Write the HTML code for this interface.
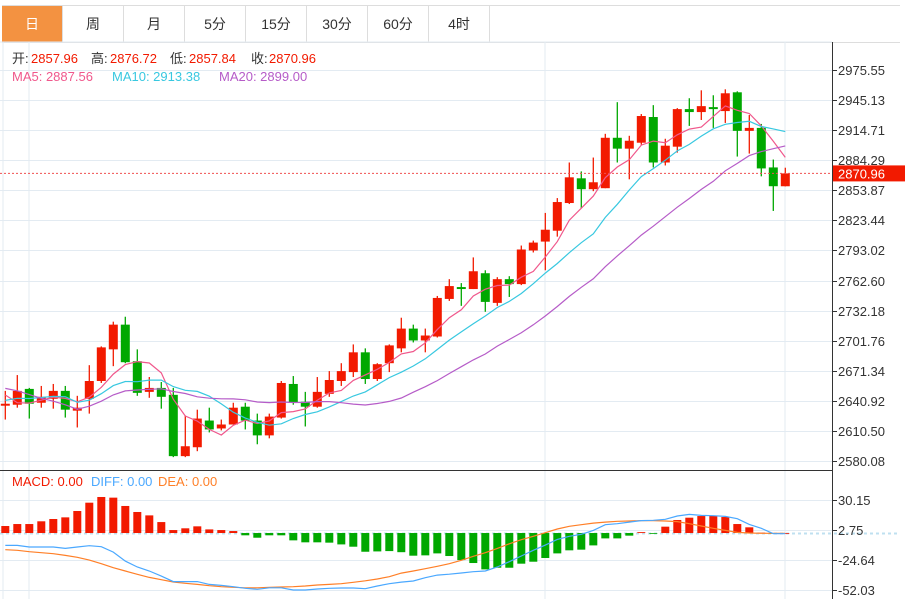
<!DOCTYPE html>
<html><head><meta charset="utf-8">
<style>
body{margin:0;background:#fff;font-family:"Liberation Sans","Noto Sans CJK SC",sans-serif;}
#wrap{position:relative;width:905px;height:599px;overflow:hidden;}
.tabs{position:absolute;left:2px;top:5px;height:36px;display:flex;border-top:1px solid #ddd;border-bottom:1px solid #ddd;}
.tab{width:60px;border-right:1px solid #ddd;text-align:center;line-height:36px;font-size:14px;color:#333;}
.tab.on{background:#f39241;color:#fff;}
svg{position:absolute;left:0;top:0;}
</style></head><body>
<div id="wrap">
<div class="tabs">
<div class="tab on">日</div>
<div class="tab">周</div>
<div class="tab">月</div>
<div class="tab">5分</div>
<div class="tab">15分</div>
<div class="tab">30分</div>
<div class="tab">60分</div>
<div class="tab">4时</div>
<div class="tab" style="width:410px;border-right:none"></div>
</div>
<svg id="chart" width="905" height="599"></svg>
</div>
<script>
const opens=[2636,2637,2653,2639,2643,2651,2631,2643,2661,2693,2718,2681,2650,2654,2647,2585,2594,2621,2613,2617,2635,2621,2606,2624,2658,2640,2635,2648,2661,2670,2690,2663,2679,2694,2714,2702,2706,2744,2756,2754,2770,2740,2764,2759,2793,2802,2813,2841,2866,2855,2856,2907,2896,2902,2928,2882,2898,2936,2933,2938,2934,2953,2914,2917,2877,2857.96];
const highs=[2651,2667,2654,2656,2658,2656,2646,2677,2696,2721,2726,2693,2665,2660,2654,2626,2632,2634,2622,2639,2639,2628,2628,2661,2666,2650,2665,2671,2679,2698,2694,2679,2698,2725,2718,2714,2747,2764,2760,2786,2773,2766,2767,2798,2803,2831,2846,2882,2873,2887,2911,2943,2909,2931,2940,2906,2937,2947,2955,2950,2956,2954,2930,2921,2885,2876.72];
const lows=[2622,2634,2623,2634,2633,2624,2614,2628,2659,2676,2679,2646,2644,2633,2584,2584,2590,2609,2611,2617,2612,2597,2603,2623,2637,2615,2634,2645,2656,2665,2658,2661,2670,2690,2700,2690,2705,2742,2737,2754,2731,2737,2746,2758,2791,2773,2807,2840,2836,2853,2856,2882,2865,2900,2877,2879,2892,2919,2925,2917,2922,2888,2891,2868,2833,2857.84];
const closes=[2638,2651,2638,2645,2651,2632,2634,2661,2695,2718,2680,2649,2654,2645,2585,2595,2623,2612,2617,2634,2621,2606,2625,2659,2639,2635,2650,2662,2671,2690,2663,2678,2697,2714,2702,2707,2745,2757,2754,2772,2741,2764,2759,2794,2801,2814,2842,2867,2855,2862,2907,2896,2904,2929,2882,2899,2936,2933,2939,2936,2952,2914,2917,2876,2858,2870.96];
const priorCloses=[2700,2715,2720,2710,2705,2722,2600,2595,2590,2600,2630,2640,2635,2640,2635,2690,2640,2630,2636];
const macdHist=[6.4,8.2,8.2,10.7,12.8,14.3,20.1,27.7,32.9,32.3,24.7,19.2,16.1,10,2.7,4.3,6.1,3.3,2.7,1.8,-2.1,-4.3,-2.1,-2.1,-6.7,-8.5,-8.5,-8.8,-10.4,-12.5,-17.1,-16.8,-16.5,-17.5,-20.7,-20.4,-18.6,-21,-24.7,-27.4,-33.2,-31.7,-31.7,-28,-26.2,-22.8,-18.6,-15.8,-15.2,-11.3,-4.9,-4.9,-2.4,0.8,-0.5,5.8,11.9,14,15.5,15.8,14.6,8.2,5.2,0.3,-0.5,0];
const diffVals=[-11.3,-11.3,-12.8,-12.8,-12.8,-14,-12.8,-11.6,-12.5,-17.4,-25.6,-31,-34.7,-39.3,-44.4,-44.4,-44.4,-46.9,-47.8,-49,-50.5,-51.4,-50,-50,-52,-52,-51.1,-50.5,-50.2,-50.2,-50.8,-48.4,-46.3,-44.8,-43.8,-40.8,-38.4,-37.6,-36.5,-35.3,-34.7,-31,-26.2,-21,-15.8,-11,-5.8,-3,-1.2,2.4,7.6,8.5,10,11.3,11.6,12.5,15.5,17,16.1,15.8,15.2,13.1,7.9,4.3,-0.6,-0.6];
const deaVals=[-15.2,-15.8,-17.1,-18,-18.9,-20.4,-22.2,-24.7,-28,-31.7,-34.7,-37.7,-40.5,-42.6,-44.7,-45.9,-46.9,-48.1,-49,-49.6,-50,-50,-49.6,-49.3,-49,-48.4,-47.5,-46.9,-46.3,-45,-43.6,-42,-39.9,-36.6,-34.7,-32.6,-30.4,-28,-24.9,-21.3,-18,-14,-9.8,-6.1,-3,0.3,3.7,6.1,7.6,9.1,10,10.7,11,11.3,11.3,11,10.4,8.5,6.4,4.3,2.4,0.6,0,-0.3,-0.3,-0.3];
const priceTicks=[2975.55,2945.13,2914.71,2884.29,2853.87,2823.44,2793.02,2762.60,2732.18,2701.76,2671.34,2640.92,2610.50,2580.08];
const macdTicks=[30.15,2.75,-24.64,-52.03];

const NS='http://www.w3.org/2000/svg';
const svg=document.getElementById('chart');
function el(tag,attrs,parent){const e=document.createElementNS(NS,tag);for(const k in attrs)e.setAttribute(k,attrs[k]);(parent||svg).appendChild(e);return e;}
const pMax=2975.55,pMin=2580.08,pTop=70,pBot=461;
function yP(p){return pTop+(pMax-p)*(pBot-pTop)/(pMax-pMin);}
const mMax=30.15,mMin=-52.03,mTop=500,mBot=590;
function yM(v){return mTop+(mMax-v)*(mBot-mTop)/(mMax-mMin);}
function xC(i){return 5.3+12*i;}
const AX=832;

const grid=el('g',{});


[29,545,785].forEach(x=>el('line',{x1:x,y1:42,x2:x,y2:599,stroke:'#e3ebf2','stroke-width':1},grid));
el('line',{x1:3,y1:42,x2:3,y2:599,stroke:'#e3ebf2','stroke-width':1},grid);
el('line',{x1:0,y1:42,x2:AX,y2:42,stroke:'#e3ebf2'},grid);
priceTicks.forEach(t=>{const y=Math.round(yP(t))+0.5;el('line',{x1:0,y1:y,x2:AX,y2:y,stroke:'#e3ebf2'},grid);});
macdTicks.forEach(t=>{const y=Math.round(yM(t))+0.5;el('line',{x1:0,y1:y,x2:AX,y2:y,stroke:'#e3ebf2'},grid);});
const zy=Math.round(yM(0))+0.5;
const zl=el('line',{x1:0,y1:zy,x2:900,y2:zy,stroke:'#bfe0f0','stroke-width':2,'stroke-dasharray':'3,3'});



el('line',{x1:AX+0.5,y1:42,x2:AX+0.5,y2:599,stroke:'#333'});
el('line',{x1:0,y1:470.5,x2:AX,y2:470.5,stroke:'#333'});
const pax=el('g',{});


priceTicks.forEach(t=>{const y=Math.round(yP(t))+0.5;el('line',{x1:AX,y1:y,x2:AX+5,y2:y,stroke:'#333'},pax);
const tx=el('text',{x:838,y:y+4.5,'font-size':13,fill:'#333'},pax);tx.textContent=t.toFixed(2);});
const max=el('g',{});


macdTicks.forEach(t=>{const y=Math.round(yM(t))+0.5;el('line',{x1:AX,y1:y,x2:AX+5,y2:y,stroke:'#333'},max);
const tx=el('text',{x:838,y:y+4.5,'font-size':13,fill:'#333'},max);tx.textContent=t.toFixed(2);});

const cg=el('g',{});


for(let i=0;i<opens.length;i++){
 const up=closes[i]>=opens[i];const col=up?'#f21a00':'#00a800';
 const x=xC(i);
 const g=el('g',{},cg);
 
 
 el('line',{x1:x,y1:yP(highs[i]),x2:x,y2:yP(lows[i]),stroke:col,'stroke-width':1.3},g);
 const t=yP(Math.max(opens[i],closes[i])),b=yP(Math.min(opens[i],closes[i]));
 el('rect',{x:x-4.5,y:t,width:9,height:Math.max(1.5,b-t),fill:col},g);
}
const all=priorCloses.concat(closes);
function ma(n){const r=[];for(let i=0;i<closes.length;i++){const j=i+priorCloses.length;let s=0;for(let k=j-n+1;k<=j;k++)s+=all[k];r.push(s/n);}return r;}
[[5,'#f0588c','ma5-line'],[10,'#38c8e0','ma10-line'],[20,'#b65cc8','ma20-line']].forEach(([n,c,name])=>{
 const v=ma(n);const pl=el('polyline',{points:v.map((p,i)=>xC(i)+','+yP(p).toFixed(1)).join(' '),fill:'none',stroke:c,'stroke-width':1.2});
 
 
});
const last=closes[closes.length-1];
const cy=yP(last);
const cl=el('line',{x1:0,y1:cy,x2:AX,y2:cy,stroke:'#f05050','stroke-width':1,'stroke-dasharray':'2,2'});


const cr=el('rect',{x:AX+1,y:cy-8,width:72,height:16,fill:'#f21a00'});


const ct=el('text',{x:838,y:cy+5,'font-size':13,fill:'#fff'});ct.textContent=last.toFixed(2);

const mg=el('g',{});


for(let i=0;i<macdHist.length;i++){const v=macdHist[i];const y0=yM(0),y1=yM(v);
 const b=el('rect',{x:xC(i)-4,y:Math.min(y0,y1),width:8,height:Math.max(0.8,Math.abs(y1-y0)),fill:v>=0?'#f21a00':'#00a800'},mg);
 
 }
[[deaVals,'#ff7f27','dea-line'],[diffVals,'#4aa8ff','diff-line']].forEach(([v,c,name])=>{
 const pl=el('polyline',{points:v.map((p,i)=>xC(i)+','+yM(p).toFixed(1)).join(' '),fill:'none',stroke:c,'stroke-width':1.2});
 
 
});

function txt(x,y,s,c,name){const t=el('text',{x:x,y:y,'font-size':13,fill:c});t.textContent=s;return t;}
[[12,'开:','#333'],[31,'2857.96','#f21a00'],[91,'高:','#333'],[110,'2876.72','#f21a00'],[170,'低:','#333'],[189,'2857.84','#f21a00'],[251,'收:','#333'],[269,'2870.96','#f21a00']].forEach(([x,s,c])=>txt(x,63,s,c,'ohlc-legend'));
txt(12,81,'MA5: 2887.56','#f0588c','ma5-legend');
txt(112,81,'MA10: 2913.38','#38c8e0','ma10-legend');
txt(219,81,'MA20: 2899.00','#b65cc8','ma20-legend');
txt(12,486,'MACD: 0.00','#f21a00','macd-legend');
txt(91,486,'DIFF: 0.00','#4aa8ff','diff-legend');
txt(158,486,'DEA: 0.00','#ff7f27','dea-legend');
</script>
</body></html>
